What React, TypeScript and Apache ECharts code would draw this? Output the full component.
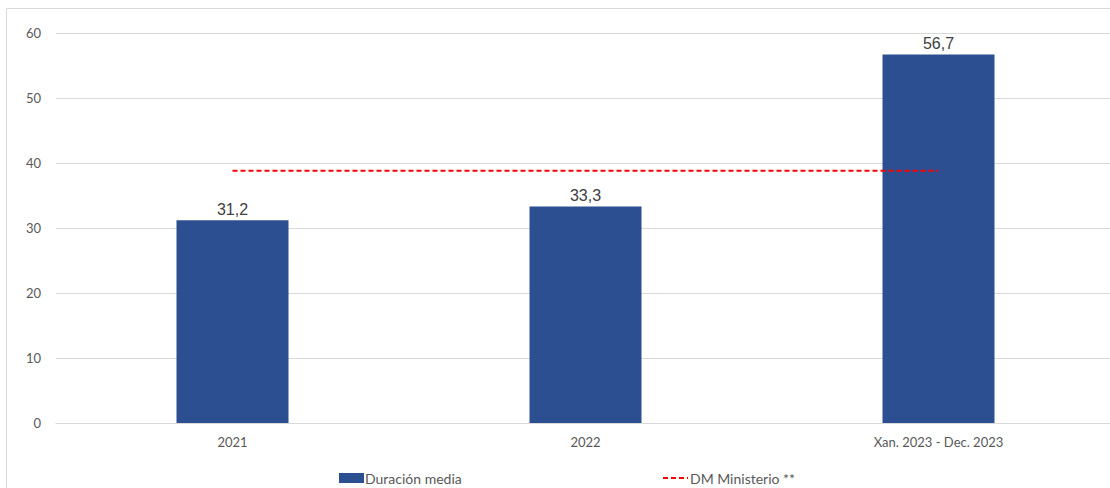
import React, { useEffect, useRef } from "react";
import * as echarts from "echarts";

const categories = ["2021", "2022", "Xan. 2023 - Dec. 2023"];
const duracionMedia = [31.2, 33.3, 56.7];
const dmMinisterio = [38.8, 38.8, 38.8];
const yTicks = { min: 0, max: 60, interval: 10 };

const fmt = (v: number) => v.toFixed(1).replace(".", ",");

export default function App() {
  const ref = useRef<HTMLDivElement>(null);
  useEffect(() => {
    if (!ref.current) return;
    document.body.style.overflow = "hidden";
    const chart = echarts.init(ref.current, undefined, { renderer: "svg" });
    const axisFont = "Lato, 'Open Sans', sans-serif";
    chart.setOption({
      animation: false,
      backgroundColor: "#ffffff",
      graphic: [
        {
          type: "rect",
          shape: { x: 6.5, y: 8.5, width: 1200, height: 600 },
          style: { fill: "none", stroke: "#d9d9d9", lineWidth: 1 },
          silent: true,
          z: -10,
        },
      ],
      grid: { left: 56, right: 0, top: 33, bottom: 65, containLabel: false },
      legend: [
        {
          data: ["Duración media"],
          left: 339,
          top: 471,
          itemWidth: 25,
          itemHeight: 10,
          itemGap: 2,
          icon: "rect",
          textStyle: { color: "#595959", fontSize: 14, fontFamily: axisFont, padding: [0, 0, 0, -4] },
          padding: 0,
        },
        {
          data: [{ name: "DM Ministerio **", itemStyle: { opacity: 0 } }],
          left: 662,
          top: 471,
          itemWidth: 25,
          itemHeight: 10,
          textStyle: { color: "#595959", fontSize: 14, fontFamily: axisFont, padding: [0, 0, 0, -3] },
          padding: 0,
        },
      ],
      xAxis: {
        type: "category",
        data: categories,
        boundaryGap: true,
        axisLine: { lineStyle: { color: "#d9d9d9", width: 1 } },
        axisTick: { show: false },
        axisLabel: { color: "#595959", fontSize: 13, fontFamily: axisFont, margin: 12 },
      },
      yAxis: {
        type: "value",
        min: yTicks.min,
        max: yTicks.max,
        interval: yTicks.interval,
        axisLine: { show: false },
        axisTick: { show: false },
        splitLine: { lineStyle: { color: "#d9d9d9", width: 1 } },
        axisLabel: { color: "#595959", fontSize: 13, fontFamily: axisFont, margin: 15 },
      },
      series: [
        {
          name: "Duración media",
          type: "bar",
          data: duracionMedia,
          barWidth: 112,
          itemStyle: { color: "#2c4f92" },
          label: {
            show: true,
            position: "top",
            distance: 3,
            color: "#404040",
            fontSize: 16,
            fontFamily: "'Liberation Sans', Arial, sans-serif",
            formatter: (p: any) => fmt(p.value),
          },
        },
        {
          name: "DM Ministerio **",
          type: "line",
          data: dmMinisterio,
          symbol: "none",
          lineStyle: { color: "#ff0000", width: 2, type: [5, 3] },
          itemStyle: { color: "#ff0000" },
          z: 5,
        },
      ],
    });
    return () => chart.dispose();
  }, []);
  return (
    <div
      ref={ref}
      style={{ position: "fixed", left: 0, top: 0, width: 1115, height: 488 }}
    />
  );
}
